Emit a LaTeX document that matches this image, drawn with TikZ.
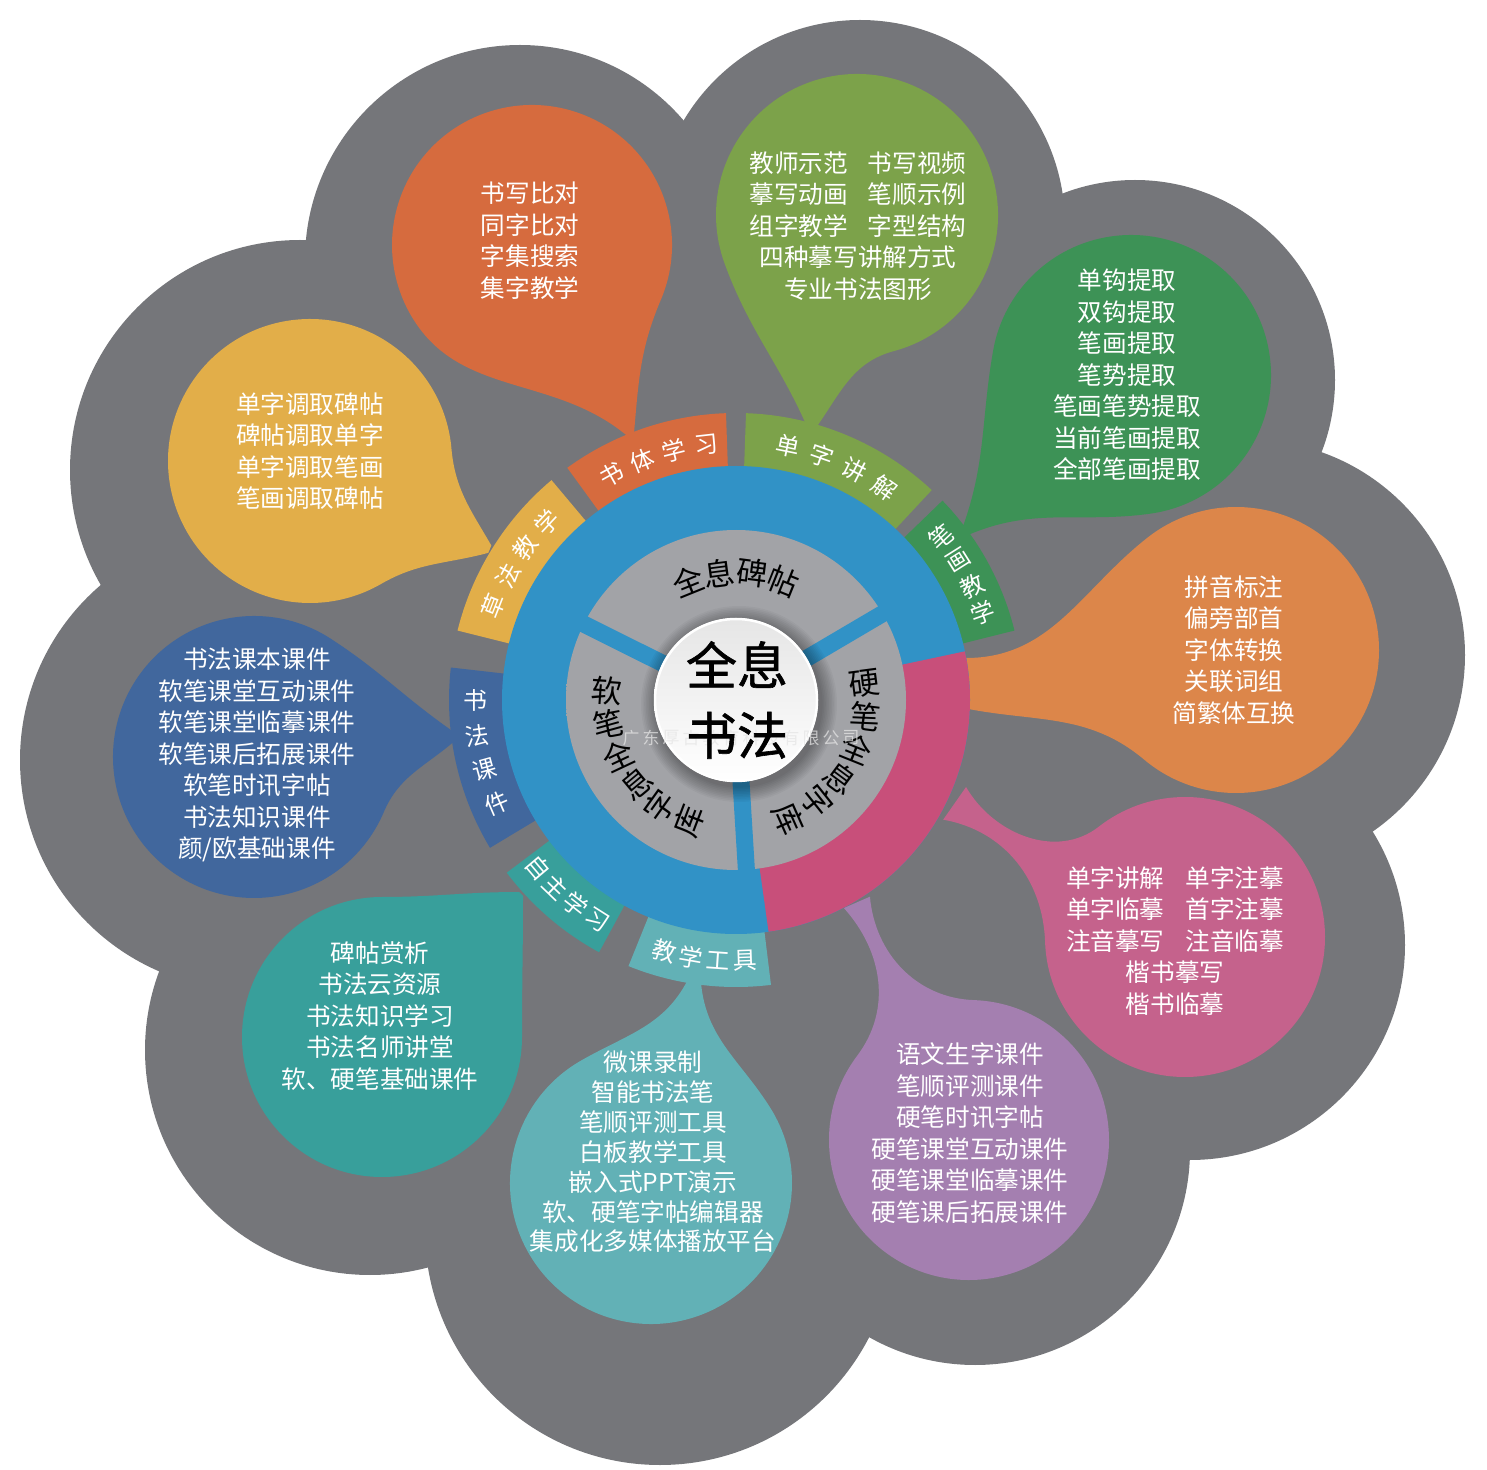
\documentclass[tikz,border=0pt]{standalone}
\usepackage{fontspec}
\newfontfamily\cjk{Noto Sans CJK SC}
\newfontfamily\cjkb[FakeBold=1.2]{Noto Sans CJK SC}
\usetikzlibrary{calc}

\definecolor{bgGray}{HTML}{75767A}
\definecolor{cOrange}{HTML}{D66B3E}
\definecolor{cGreen}{HTML}{7CA24A}
\definecolor{cDkGreen}{HTML}{3D9256}
\definecolor{cOrangeB}{HTML}{DC864A}
\definecolor{cPink}{HTML}{C5628C}
\definecolor{cPurple}{HTML}{A47FB0}
\definecolor{cLTeal}{HTML}{62B1B6}
\definecolor{cTeal}{HTML}{389F9B}
\definecolor{cBlue}{HTML}{41679D}
\definecolor{cYellow}{HTML}{E2AE49}
\definecolor{ringBlue}{HTML}{3192C6}
\definecolor{ringPink}{HTML}{C84F7A}
\definecolor{hubLt}{HTML}{C3C4C8}
\definecolor{hubDk}{HTML}{A2A3A7}
\pgfdeclareradialshading{hubshade}{\pgfpoint{0bp}{0bp}}{color(0bp)=(hubDk); color(27bp)=(hubDk); color(42bp)=(hubLt); color(50bp)=(hubLt)}

\tikzset{
  bubtxt/.style={font=\cjk\fontsize{7pt}{8.96pt}\selectfont, text=white, align=center, inner sep=0pt},
  bandtxt/.style={font=\cjk\fontsize{6.8pt}{8pt}\selectfont, text=white, inner sep=0pt},
  hubtxt/.style={font=\cjk\fontsize{8.8pt}{9pt}\selectfont, text=black, inner sep=0pt},
  wmtxt/.style={font=\cjk\fontsize{4.8pt}{5pt}\selectfont, text=white!80!gray, opacity=0.75, inner sep=0pt},
}

% bubble: colour, centre, radius, side angles a2 < a1, tip, tip directions, tip half width
\newcommand\bubble[9]{%
  \fill[#1] ([shift={(#5:#3)}]#2) arc[start angle=#5, end angle={#4+360}, radius=#3]
    to[out={#4+90}, in={#7+180}] ([shift={({#7-90}:#9)}]#6)
    -- ([shift={({#8+90}:#9)}]#6)
    to[out={#8+180}, in={#5-90}] ([shift={(#5:#3)}]#2) -- cycle;}
% ring band from angle #2 to #3
\newcommand\band[3]{%
  \fill[#1] (O) -- ([shift={(#2:287)}]O) arc[start angle=#2, end angle=#3, radius=287] -- cycle;}
% characters set round the hub
\newcommand\arctext[7]{%
  \foreach \ch [count=\i from 0] in {#7}
    \node[#1, rotate={#4+(#5)*\i+(#6)}] (#2\i) at ([shift={({#4+(#5)*\i}:#3)}]O) {\ch};}

\begin{document}
\begin{tikzpicture}[x=0.01cm, y=0.01cm]
  \useasboundingbox (0,0) rectangle (1487,-1470);
  \coordinate (O) at (736,-700);

  % grey flower
  \fill[bgGray] (O) circle (470);
  \foreach \x/\y/\r in {520/-260/215, 860/-225/205, 1135/-380/200, 1250/-655/215,
      1190/-945/215, 975/-1150/215, 660/-1230/235, 370/-1050/225, 250/-760/230, 300/-470/230}
    \fill[bgGray] (\x,\y) circle (\r);

  % bubbles
  \coordinate (b1) at (532,-245);   \coordinate (t1) at (630,-433);
  \coordinate (b2) at (857,-215);   \coordinate (t2) at (812,-423);
  \coordinate (b3) at (1131,-375);  \coordinate (t3) at (967,-530);
  \coordinate (b4) at (1236,-650);  \coordinate (t4) at (966,-683);
  \coordinate (b5) at (1185,-937);  \coordinate (t5) at (947,-798);
  \coordinate (b6) at (969,-1140);  \coordinate (t6) at (855,-898);
  \coordinate (b7) at (651,-1183);  \coordinate (t7) at (694,-983);
  \coordinate (b8) at (382,-1037);  \coordinate (t8) at (519,-896);
  \coordinate (b9) at (254,-757);   \coordinate (t9) at (447,-737);
  \coordinate (b10) at (310,-461);  \coordinate (t10) at (487,-548);

  \bubble{cOrange}{b1}{140}{209}{337}{t1}{-40}{-95}{4}
  \bubble{cGreen}{b2}{141}{200}{285}{t2}{-66}{-125}{6}
  \bubble{cDkGreen}{b3}{140}{170}{278}{t3}{-110}{203}{5}
  \bubble{cOrangeB}{b4}{143}{128}{230}{t4}{180}{168}{25}
  \bubble{cPink}{b5}{140}{128}{182}{t5}{120}{170}{22}
  \bubble{cPurple}{b6}{140}{88}{143}{t6}{95}{132}{15}
  \bubble{cLTeal}{b7}{141}{32}{120}{t7}{95}{63}{7}
  \bubble{cTeal}{b8}{140}{0}{90}{t8}{90}{0}{4}
  \bubble{cBlue}{b9}{141}{-23}{57}{t9}{40}{-35}{8}
  \bubble{cYellow}{b10}{142}{-60}{5}{t10}{15}{-60}{5}

  \node[bubtxt] (bx1) at (530,-240.5) {书写比对\\同字比对\\字集搜索\\集字教学};
  \node[bubtxt] (bx2) at (858,-226) {教师示范\hspace{0.2cm}书写视频\\摹写动画\hspace{0.2cm}笔顺示例\\组字教学\hspace{0.2cm}字型结构\\四种摹写讲解方式\\专业书法图形};
  \node[bubtxt] (bx3) at (1127,-375) {单钩提取\\双钩提取\\笔画提取\\笔势提取\\笔画笔势提取\\当前笔画提取\\全部笔画提取};
  \node[bubtxt] (bx4) at (1234,-650) {拼音标注\\偏旁部首\\字体转换\\关联词组\\简繁体互换};
  \node[bubtxt] (bx5) at (1175,-941) {单字讲解\hspace{0.21cm}单字注摹\\单字临摹\hspace{0.21cm}首字注摹\\注音摹写\hspace{0.21cm}注音临摹\\楷书摹写\\楷书临摹};
  \node[bubtxt] (bx6) at (970,-1133) {语文生字课件\\笔顺评测课件\\硬笔时讯字帖\\硬笔课堂互动课件\\硬笔课堂临摹课件\\硬笔课后拓展课件};
  \node[bubtxt, font=\cjk\fontsize{7pt}{8.5pt}\selectfont] (bx7) at (653,-1152) {微课录制\\智能书法笔\\笔顺评测工具\\白板教学工具\\嵌入式PPT演示\\软、硬笔字帖编辑器\\集成化多媒体播放平台};
  \node[bubtxt] (bx8) at (380,-1016) {碑帖赏析\\书法云资源\\书法知识学习\\书法名师讲堂\\软、硬笔基础课件};
  \node[bubtxt] (bx9) at (257,-755) {书法课本课件\\软笔课堂互动课件\\软笔课堂临摹课件\\软笔课后拓展课件\\软笔时讯字帖\\书法知识课件\\颜/欧基础课件};
  \node[bubtxt] (bx10) at (310,-451) {单字调取碑帖\\碑帖调取单字\\单字调取笔画\\笔画调取碑帖};

  % bands round the ring
  \band{cOrange}{92}{126}
  \band{cGreen}{47}{88}
  \band{cDkGreen}{14}{44}
  \band{cYellow}{130}{166}
  \band{cBlue}{173.5}{211}
  \band{cTeal}{217}{241.5}
  \band{cLTeal}{248}{277}

  % ring and hub
  \fill[ringBlue] (O) circle (234);
  \fill[ringPink] (O) -- ([shift={(-82:234)}]O) arc[start angle=-82, end angle=12, radius=234] -- cycle;
  \shade[shading=hubshade] (O) circle (170);
  \foreach \a in {153.5, 30.5, -86.5}
    \draw[ringBlue, line width=0.17cm] (O) -- ([shift={(\a:171)}]O);
  \foreach \k in {1,...,10}
    \fill[black, opacity=0.035] ([shift={(3,-4)}]O) circle ({82+1.6*\k});
  \shade[top color=white!80!gray, bottom color=white] (O) circle (82);
  \draw[white, line width=0.025cm] (O) circle (81);

  \arctext{bandtxt}{sx}{257}{119}{-7.5}{-90}{书,体,学,习}
  \arctext{bandtxt}{dz}{259}{78.5}{-7.8}{-90}{单,字,讲,解}
  \arctext{bandtxt}{bh}{262}{38.6}{-6.4}{0}{笔,画,教,学}
  \arctext{bandtxt}{cf}{260}{158.7}{-7.3}{-90}{草,法,教,学}
  \arctext{bandtxt}{kj}{261}{180}{7.8}{-180}{书,法,课,件}
  \arctext{bandtxt}{zz}{260}{220.3}{5.8}{90}{自,主,学,习}
  \arctext{bandtxt}{jg}{261}{254}{6}{90}{教,学,工,具}

  \arctext{hubtxt}{bt}{128}{112}{-14.6}{-90}{全,息,碑,帖}
  \arctext{hubtxt}{rb}{130}{176}{14.6}{-180}{软,笔,全,息,字,库}
  \arctext{hubtxt}{yb}{130}{7.5}{-14.7}{0}{硬,笔,全,息,字,库}

  \foreach \ch [count=\i from 0] in {广,东,厚,古,教,育,科,技,有,限,公,司}
    \node[wmtxt] (wm\i) at (631+20*\i,-738) {\ch};

  \node[font=\cjkb\fontsize{14.5pt}{19.9pt}\selectfont, align=center, inner sep=0pt] (title) at (737,-700) {全息\\书法};
\end{tikzpicture}
\end{document}
